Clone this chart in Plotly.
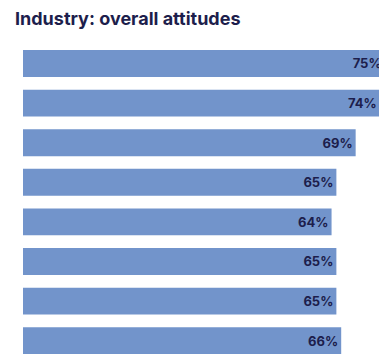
import plotly.graph_objects as go

# Data
values = [75, 74, 69, 65, 64, 65, 65, 66]
labels = [f"{v}%" for v in values]
positions = list(range(len(values)))
title_text = "Industry: overall attitudes"

BAR_COLOR = "#7294cb"
TEXT_COLOR = "#1d1e4c"

# The page body adds an 8px offset; the figure is sized to fill the rest.
W, H = 379, 346

fig = go.Figure(
    go.Bar(
        x=values,
        y=positions,
        orientation="h",
        width=0.68,
        marker=dict(color=BAR_COLOR, line=dict(width=0)),
        text=labels,
        textposition="inside",
        insidetextanchor="end",
        textangle=0,
        textfont=dict(family="Inter", size=13, color=TEXT_COLOR, weight="bold"),
        cliponaxis=False,
        hoverinfo="skip",
    )
)

fig.update_layout(
    width=W,
    height=H,
    margin=dict(l=15, r=0, t=0, b=0),
    paper_bgcolor="white",
    plot_bgcolor="white",
    showlegend=False,
    uniformtext=dict(minsize=13, mode="show"),
    title=dict(
        text=title_text,
        x=7 / W,
        xref="container",
        xanchor="left",
        y=1 - 11 / H,
        yref="container",
        yanchor="middle",
        font=dict(family="Inter", size=18, color=TEXT_COLOR, weight="bold"),
    ),
    xaxis=dict(
        range=[0, 75.5],
        visible=False,
        fixedrange=True,
    ),
    yaxis=dict(
        range=[7.336, -1.4015],
        visible=False,
        fixedrange=True,
    ),
)

fig.write_html("out.html")
